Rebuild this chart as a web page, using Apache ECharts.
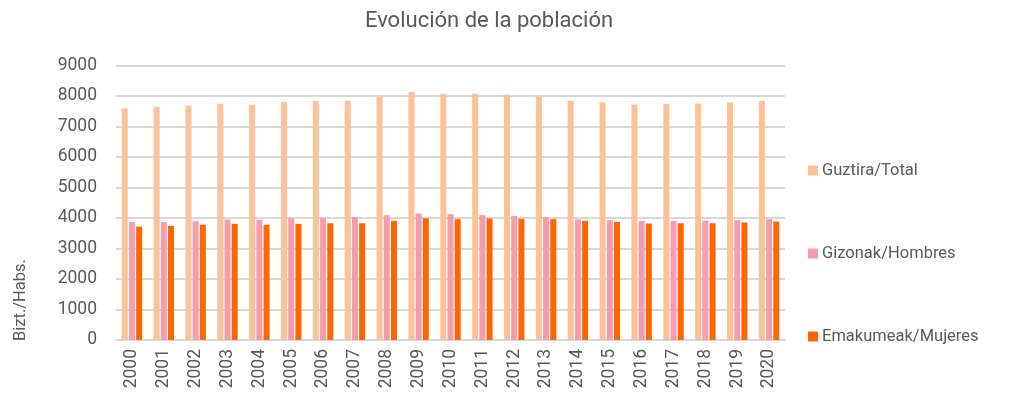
<!DOCTYPE html>
<html>
<head>
<meta charset="utf-8">
<script src="https://cdn.jsdelivr.net/npm/echarts@6/dist/echarts.min.js"></script>
<style>
html,body{margin:0;padding:0;background:#fff;}
#c{width:1011px;height:401px;}
</style>
</head>
<body>
<div id="c"></div>
<script>
var categories = ['2000','2001','2002','2003','2004','2005','2006','2007','2008','2009','2010','2011','2012','2013','2014','2015','2016','2017','2018','2019','2020'];
var total   = [7593,7637,7680,7746,7713,7801,7834,7845,7976,8129,8074,8074,8042,7976,7845,7790,7724,7735,7757,7790,7845];
var hombres = [3873,3873,3895,3950,3939,4004,4015,4037,4092,4147,4125,4092,4070,4026,3950,3928,3906,3906,3917,3928,3961];
var mujeres = [3720,3742,3775,3807,3775,3807,3829,3829,3906,3993,3961,3982,3972,3961,3906,3873,3818,3829,3829,3851,3884];
var seriesNames = ['Guztira/Total','Gizonak/Hombres','Emakumeak/Mujeres'];
var titleText = 'Evolución de la población';
var yAxisName = 'Bizt./Habs.';

var chart = echarts.init(document.getElementById('c'), null, {renderer:'canvas'});
var font = 'Roboto, "Noto Sans", sans-serif';
var txt = '#595959';
chart.setOption({
  animation:false,
  color:['#FFC097','#F59DAE','#FF6600'],
  title:{text:titleText,left:484,textAlign:'center',top:5,
    textStyle:{fontFamily:font,fontSize:22,fontWeight:'normal',color:txt}},
  legend:{orient:'vertical',left:803,top:157,itemGap:66,itemWidth:10,itemHeight:10,
    icon:'rect',textStyle:{fontFamily:font,fontSize:16.5,color:txt,padding:[0,0,0,-1]}},
  grid:{left:116,right:226,top:65.5,bottom:61,containLabel:false},
  xAxis:{type:'category',data:categories,
    axisLine:{lineStyle:{color:'#d9d9d9',width:2}},axisTick:{show:false},
    axisLabel:{rotate:90,fontFamily:font,fontSize:17.5,color:txt,margin:9}},
  yAxis:{type:'value',min:0,max:9000,interval:1000,
    axisLine:{show:false},axisTick:{show:false},
    splitLine:{lineStyle:{color:'#d9d9d9',width:2}},
    axisLabel:{fontFamily:font,fontSize:17.5,color:txt,margin:19,formatter:function(v){return String(v);}}},
  graphic:[{type:'text',x:12,y:341,rotation:Math.PI/2,
    style:{text:yAxisName,fontFamily:font,fontSize:16.5,fill:txt,textAlign:'left',textVerticalAlign:'top'}}],
  series:[
    {name:seriesNames[0],type:'bar',data:total,barWidth:6,barGap:'20%',barCategoryGap:'37%'},
    {name:seriesNames[1],type:'bar',data:hombres,barWidth:6,barGap:'20%'},
    {name:seriesNames[2],type:'bar',data:mujeres,barWidth:6,barGap:'20%'}
  ]
});
</script>
</body>
</html>
